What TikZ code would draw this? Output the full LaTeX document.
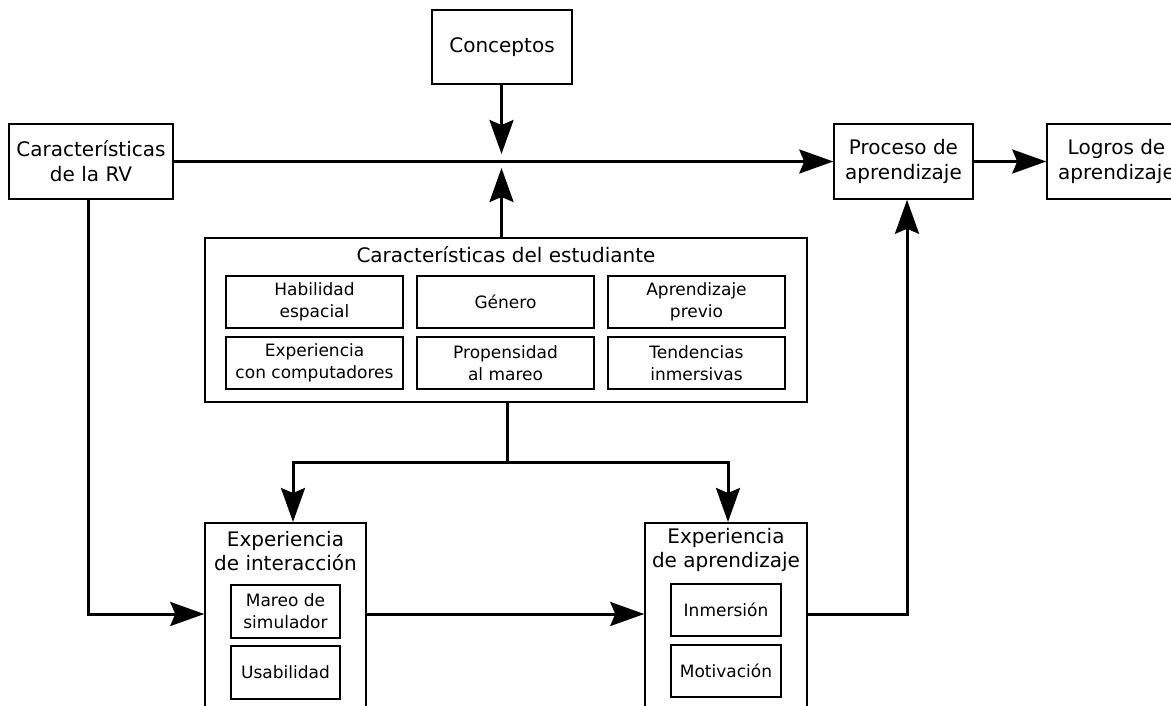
\documentclass[tikz,border=0pt]{standalone}
\usepackage{fontspec}
\setmainfont{DejaVu Sans}
\usetikzlibrary{arrows.meta}
\tikzset{
  box/.style={draw=black, line width=1.5pt, rectangle, inner sep=0pt, align=center,
    font=\fontsize{20}{25}\selectfont},
  smallbox/.style={draw=black, line width=1.5pt, rectangle, inner sep=0pt, align=center,
    font=\fontsize{17}{22}\selectfont, minimum height=52pt},
  title/.style={inner sep=0pt, align=center, font=\fontsize{20}{24}\selectfont},
  conn/.style={line width=3pt, -{Stealth[length=34pt,width=24pt,inset=5pt]}},
  plain/.style={line width=3pt},
}
\begin{document}
\begin{tikzpicture}[x=1pt,y=-1pt]
\useasboundingbox (0,0) rectangle (1171,706);
\clip (0,0) rectangle (1171,706);
% top row
\node[box, minimum width=140pt, minimum height=74pt] (conc) at (502,47) {Conceptos};
\node[box, minimum width=164pt, minimum height=75pt] (rv) at (91,161.5) {Características\\de la RV};
\node[box, minimum width=139pt, minimum height=75pt] (proc) at (903.5,161.5) {Proceso de\\aprendizaje};
\node[box, minimum width=139pt, minimum height=75pt] (logros) at (1116.5,161.5) {Logros de\\aprendizaje};
% student characteristics
\node[box, minimum width=602pt, minimum height=164pt] (stud) at (506,320) {};
\node[title] (studt) at (506,255) {Características del estudiante};
\node[smallbox, minimum width=177pt] (hab) at (314.5,302) {Habilidad\\espacial};
\node[smallbox, minimum width=177pt] (gen) at (505.5,302) {Género};
\node[smallbox, minimum width=177pt] (apr) at (696.5,302) {Aprendizaje\\previo};
\node[smallbox, minimum width=177pt] (exp) at (314.5,363) {Experiencia\\con computadores};
\node[smallbox, minimum width=177pt] (pro) at (505.5,363) {Propensidad\\al mareo};
\node[smallbox, minimum width=177pt] (ten) at (696.5,363) {Tendencias\\inmersivas};
% interaction experience
\node[box, minimum width=161pt, minimum height=210pt, anchor=north] (ie) at (285.5,522) {};
\node[title] (iet) at (285.5,551) {Experiencia\\de interacción};
\node[smallbox, minimum width=109pt, minimum height=53pt] (mareo) at (285.5,611.5) {Mareo de\\simulador};
\node[smallbox, minimum width=109pt, minimum height=53pt] (usa) at (285.5,672.5) {Usabilidad};
% learning experience
\node[box, minimum width=162pt, minimum height=210pt, anchor=north] (le) at (726,522) {};
\node[title] (let) at (726,550) {Experiencia\\de aprendizaje};
\node[smallbox, minimum width=110pt] (inm) at (726,610) {Inmersión};
\node[smallbox, minimum width=110pt] (mot) at (726,671) {Motivación};
% coordinates
\coordinate (cin) at (501.5,154);
\coordinate (cup) at (501.5,168);
\coordinate (c1) at (88,614);
\coordinate (split) at (507,462);
\coordinate (d1) at (293,462);
\coordinate (d2) at (728,462);
\coordinate (c3) at (907,614);
% connectors
\draw[conn] (conc.south -| cin) -- (cin);
\draw[conn] (stud.north -| cup) -- (cup);
\draw[conn] (rv.east) -- (proc.west);
\draw[conn] (proc.east) -- (logros.west);
\draw[conn] (rv.south -| c1) -- (c1) -- (ie.west |- c1);
\draw[plain] (stud.south -| split) -- (split);
\draw[conn] (split) -- (d1) -- (ie.north -| d1);
\draw[conn] (split) -- (d2) -- (le.north -| d2);
\draw[conn] (ie.east |- c1) -- (le.west |- c1);
\draw[conn] (le.east |- c3) -- (c3) -- (proc.south -| c3);
\end{tikzpicture}
\end{document}
